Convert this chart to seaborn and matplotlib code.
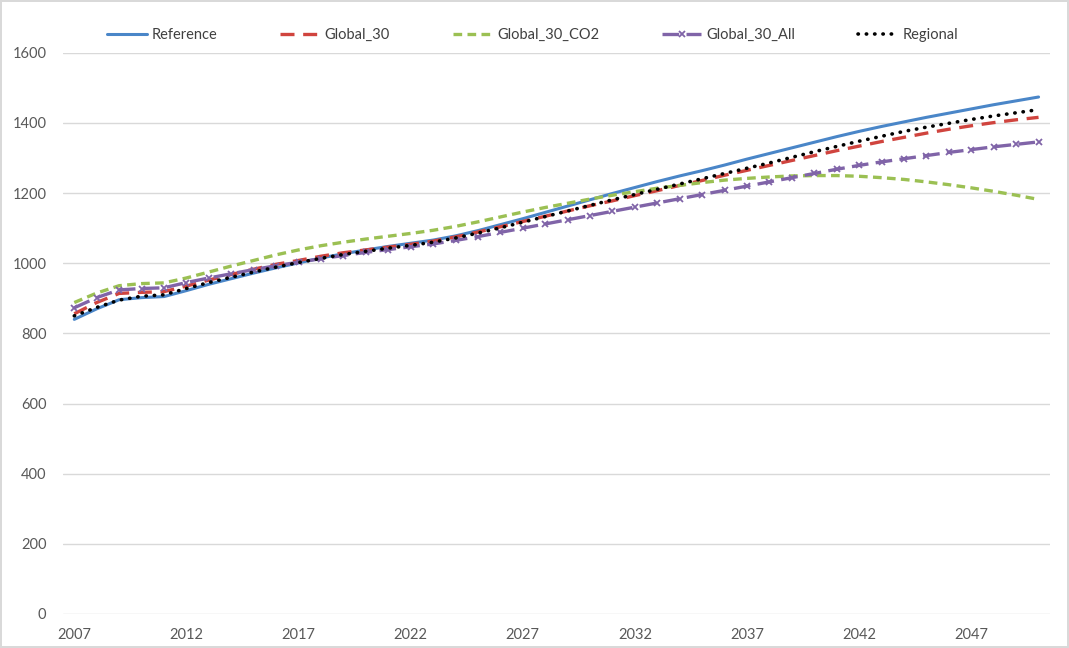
import numpy as np
import pandas as pd
import matplotlib
matplotlib.use("Agg")
import matplotlib.pyplot as plt
import seaborn as sns

# ================================
# 1. Data
# ================================
years = list(range(2007, 2051))

reference = [840, 870, 896, 902, 905, 922, 940, 956, 972, 987,
             1001, 1015, 1027, 1038, 1048, 1057, 1066, 1078, 1093, 1110,
             1127, 1145, 1163, 1181, 1199, 1216, 1233, 1249, 1264, 1280,
             1297, 1313, 1329, 1345, 1361, 1376, 1390, 1403, 1416, 1428,
             1440, 1452, 1463, 1474]

global_30 = [856, 888, 914, 917, 919, 935, 952, 968, 983, 997,
             1008, 1020, 1030, 1038, 1046, 1054, 1063, 1075, 1089, 1104,
             1119, 1134, 1149, 1164, 1178, 1193, 1207, 1222, 1236, 1251,
             1265, 1279, 1293, 1307, 1321, 1334, 1347, 1359, 1371, 1382,
             1392, 1401, 1409, 1416]

global_30_co2 = [888, 915, 936, 942, 944, 958, 975, 992, 1008, 1024,
                 1038, 1050, 1060, 1069, 1077, 1085, 1094, 1105, 1118, 1132,
                 1146, 1159, 1171, 1183, 1194, 1204, 1214, 1222, 1230, 1237,
                 1242, 1246, 1249, 1250, 1250, 1248, 1244, 1239, 1232, 1224,
                 1215, 1205, 1194, 1182]

global_30_all = [873, 902, 924, 928, 930, 945, 958, 970, 982, 993,
                 1003, 1013, 1022, 1031, 1039, 1047, 1055, 1065, 1076, 1088,
                 1100, 1112, 1124, 1136, 1148, 1160, 1172, 1184, 1196, 1208,
                 1220, 1232, 1244, 1256, 1268, 1279, 1289, 1298, 1307, 1316,
                 1324, 1332, 1339, 1346]

regional = [850, 874, 895, 906, 910, 928, 945, 960, 975, 989,
            1002, 1014, 1025, 1034, 1043, 1051, 1060, 1072, 1086, 1101,
            1117, 1133, 1149, 1165, 1181, 1196, 1211, 1226, 1241, 1256,
            1271, 1286, 1302, 1318, 1333, 1348, 1362, 1376, 1388, 1399,
            1410, 1420, 1429, 1438]

series_names = ["Reference", "Global_30", "Global_30_CO2", "Global_30_All", "Regional"]
series_values = [reference, global_30, global_30_co2, global_30_all, regional]

df = pd.DataFrame({"Year": years})
for name, vals in zip(series_names, series_values):
    df[name] = vals

# ================================
# 2. Styles
# ================================
styles = {
    "Reference":     dict(color="#4A86C8", lw=2.2, linestyle="-"),
    "Global_30":     dict(color="#D0443E", lw=2.4, linestyle=(0, (4.2, 2.6))),
    "Global_30_CO2": dict(color="#9BC053", lw=2.4, linestyle=(0, (2.6, 1.6))),
    "Global_30_All": dict(color="#8064A8", lw=2.4, linestyle=(0, (5, 2.2)),
                          marker="x", markersize=5, markeredgewidth=1.3,
                          markeredgecolor="#8064A8"),
    "Regional":      dict(color="black", lw=2.6, linestyle=(0, (0.1, 2.2)),
                          dash_capstyle="round"),
}

# ================================
# 3. Plot
# ================================
sns.set_style("white")
plt.rcParams["font.family"] = ["Lato", "DejaVu Sans"]

fig = plt.figure(figsize=(10.69, 6.48), dpi=100)
fig.patch.set_edgecolor("#D9D9D9")
fig.patch.set_linewidth(1.5)
ax = fig.add_axes([0.059, 0.0525, 0.923, 0.866])

for name in series_names:
    sns.lineplot(data=df, x="Year", y=name, ax=ax, label=name, **styles[name])

ax.set_xlim(2006.5, 2050.5)
ax.set_ylim(0, 1600)
ax.set_yticks(np.arange(0, 1601, 200))
ax.set_xticks(np.arange(2007, 2050, 5))
ax.grid(axis="y", color="#D9D9D9", lw=1)
ax.set_axisbelow(True)
for s in ax.spines.values():
    s.set_visible(False)
ax.set_xlabel("")
ax.set_ylabel("")
ax.tick_params(axis="both", length=0, labelsize=10.5, labelcolor="#595959")
ax.tick_params(axis="y", pad=12)
ax.tick_params(axis="x", pad=10)

leg = ax.legend(loc="center", bbox_to_anchor=(0.476, 1.032), ncol=5, frameon=False,
                fontsize=10.5, handlelength=2.7, columnspacing=4.3, handletextpad=0.35)
for t in leg.get_texts():
    t.set_color("#404040")

fig.savefig("out.png", dpi=100)
